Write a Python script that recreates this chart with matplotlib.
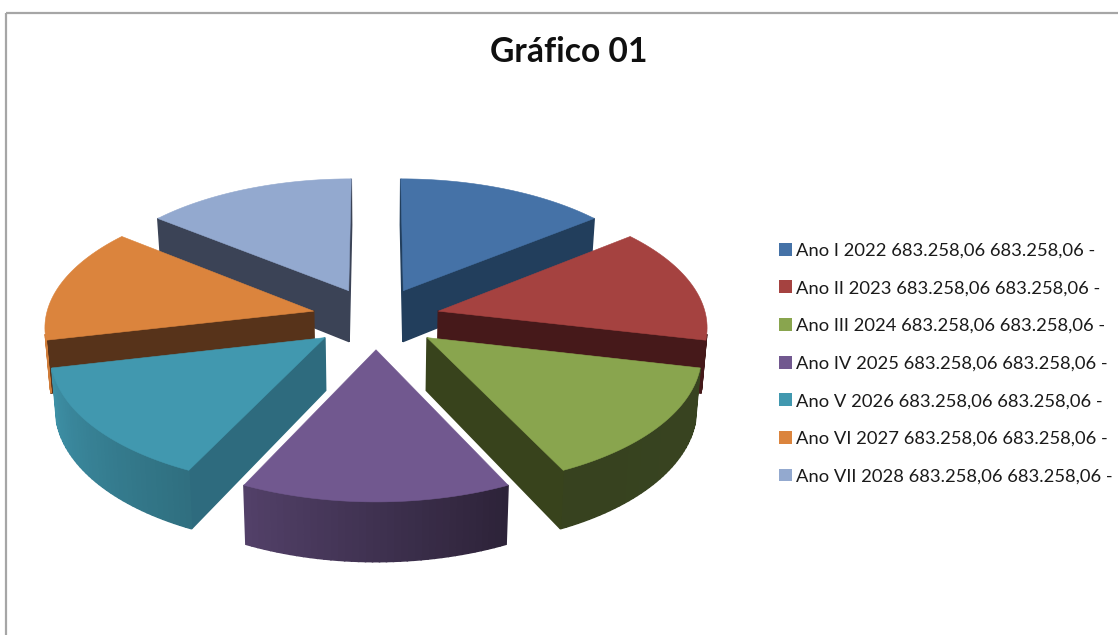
import numpy as np
import matplotlib
matplotlib.use("Agg")
import matplotlib.pyplot as plt
from matplotlib.patches import Polygon, Patch, Rectangle

anos = ["Ano I", "Ano II", "Ano III", "Ano IV", "Ano V", "Ano VI", "Ano VII"]
years = [2022, 2023, 2024, 2025, 2026, 2027, 2028]
valor_a = [683258.06, 683258.06, 683258.06, 683258.06, 683258.06, 683258.06, 683258.06]
valor_b = [683258.06, 683258.06, 683258.06, 683258.06, 683258.06, 683258.06, 683258.06]

colors = ["#4572a7", "#a54240", "#89a54e", "#71588f", "#4198af", "#db843d", "#93a9cf"]
wall_colors = ["#223e5c", "#46191a", "#38431c", "#3a2c4c", "#2e6b7e", "#57331a", "#3b4356"]

# pie projection, fitted by eye against the picture
cx, cy = 376, 318
rx, ry = 268, 129
persp = 0.105
explode = 0.24
depth = 52
shrink = 0.985


def project(x, y):
	f = 1 / (1 + persp * y)
	return cx + rx * x * f, cy - ry * y * f, f


def fmt(v):
	return f"{v:,.2f}".replace(",", "#").replace(".", ",").replace("#", ".")


def mix(color, k):
	rgb = np.array(matplotlib.colors.to_rgb(color))
	return tuple(rgb * k)


def arc_shade(bearing):
	# the outer wall gets darker going right around the front
	return np.interp(bearing, [100, 155, 205, 257], [0.41, 0.40, 0.73, 0.95])


fig = plt.figure(figsize=(11.18, 6.35), dpi=100)
ax = fig.add_axes([0, 0, 1, 1])
ax.set_xlim(0, 1118)
ax.set_ylim(635, 0)
ax.axis("off")

ax.add_patch(Rectangle((5.5, 13), 1300, 800, fill=False, edgecolor="#a6a6a6", linewidth=1.6))

ax.text(568.5, 52, "Gráfico 01", ha="center", va="center", fontsize=24.2, fontweight="bold", family="Lato", color="#101010")

values = np.array(valor_a)
edges = np.concatenate([[0], np.cumsum(values) / values.sum() * 2 * np.pi])
mids = (edges[:-1] + edges[1:]) / 2

# back slices first, so the front ones paint over them
for i in np.argsort(-np.cos(mids)):
	ox = explode * np.sin(mids[i])
	oy = explode * np.cos(mids[i])
	t = np.linspace(edges[i], edges[i + 1], 40)
	xs = np.concatenate([[ox], ox + np.sin(t)])
	ys = np.concatenate([[oy], oy + np.cos(t)])
	sx, sy, f = project(xs, ys)
	bx = cx + (sx - cx) * shrink
	by = sy + depth * f

	n = len(sx)
	for a in range(n):
		b = (a + 1) % n
		quad = np.array([[sx[a], sy[a]], [sx[b], sy[b]], [bx[b], by[b]], [bx[a], by[a]]])
		area = 0
		for k in range(4):
			p, q = quad[k], quad[(k + 1) % 4]
			area += p[0] * q[1] - q[0] * p[1]
		if area >= 0:
			continue
		if a == 0 or b == 0:
			c = wall_colors[i]
		else:
			c = mix(colors[i], arc_shade(np.degrees(t[a - 1])))
		ax.add_patch(Polygon(quad, closed=True, facecolor=c, edgecolor=c, linewidth=1.1))

	ax.add_patch(Polygon(np.column_stack([sx, sy]), closed=True, facecolor=colors[i], edgecolor=colors[i], linewidth=0.4))

handles = []
for i in range(len(anos)):
	label = f"{anos[i]} {years[i]} {fmt(valor_a[i])} {fmt(valor_b[i])} -"
	handles.append(Patch(facecolor=colors[i], label=label))

ax.legend(handles=handles, loc="center left", bbox_to_anchor=(770 / 1118, 1 - 363.5 / 635), frameon=False,
	prop={"family": "Lato", "size": 13.2}, labelspacing=1.18, handlelength=0.7, handleheight=0.7,
	handletextpad=0.22, borderpad=0, labelcolor="#1a1a1a")

fig.savefig("out.png", dpi=100)
